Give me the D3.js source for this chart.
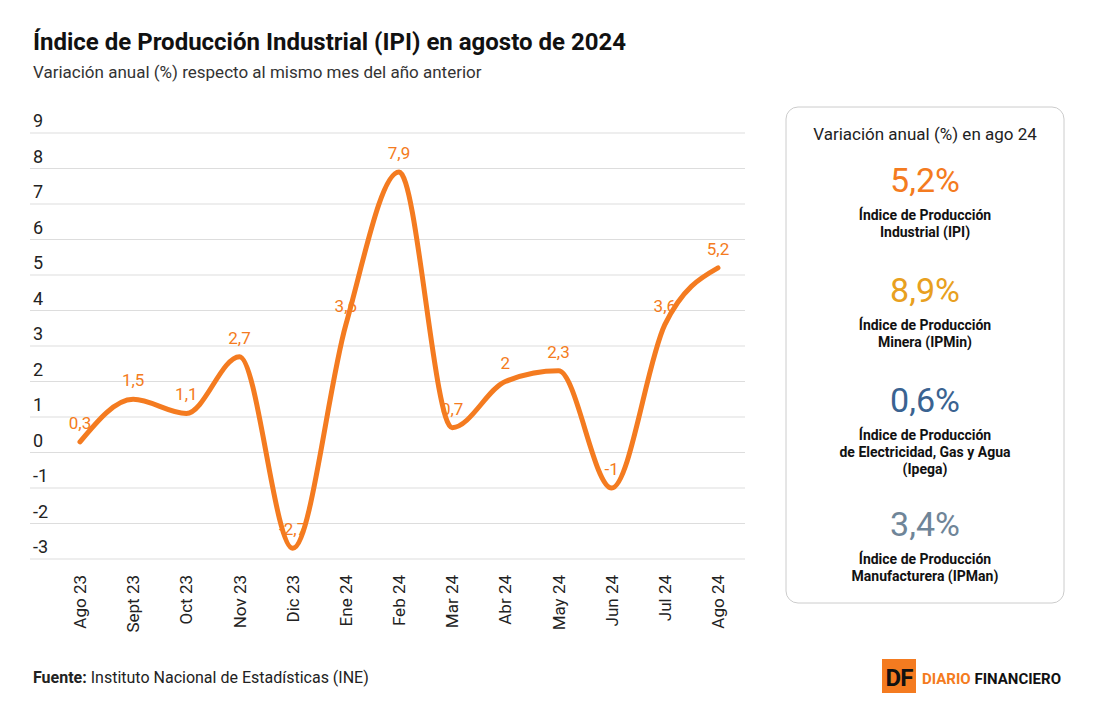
<!DOCTYPE html><html><head><meta charset="utf-8">
<script src="https://cdn.jsdelivr.net/npm/d3@7"></script>
<style>body{margin:0;background:#fff;font-family:Roboto,"Noto Sans",sans-serif}</style></head><body>
<svg id="c" width="1095" height="720"></svg>
<script>
const months=["Ago 23","Sept 23","Oct 23","Nov 23","Dic 23","Ene 24","Feb 24","Mar 24","Abr 24","May 24","Jun 24","Jul 24","Ago 24"];
const ipi=[0.3,1.5,1.1,2.7,-2.7,3.6,7.9,0.7,2,2.3,-1,3.6,5.2];
const yTicks=[-3,-2,-1,0,1,2,3,4,5,6,7,8,9];
const cardValues=["5,2%","8,9%","0,6%","3,4%"];
const cardLabels=[["Índice de Producción","Industrial (IPI)"],["Índice de Producción","Minera (IPMin)"],["Índice de Producción","de Electricidad, Gas y Agua","(Ipega)"],["Índice de Producción","Manufacturera (IPMan)"]];
const cardColors=["#f47b20","#e8a020","#3a6391","#6f8598"];
const svg=d3.select("#c");
const fmt=v=>String(v).replace(".",",");
svg.append("text").attr("x",33).attr("y",50).attr("font-size",24).attr("font-weight",700).attr("fill","#111").text("Índice de Producción Industrial (IPI) en agosto de 2024");
svg.append("text").attr("x",33).attr("y",78).attr("font-size",17).attr("fill","#333").text("Variación anual (%) respecto al mismo mes del año anterior");
const x=d3.scalePoint().domain(months).range([80,718]);
const y=d3.scaleLinear().domain([-3,9]).range([559,133]);
const g=svg.append("g");
g.selectAll("line.g").data(yTicks).join("line").attr("x1",30).attr("x2",745).attr("y1",d=>y(d)).attr("y2",d=>y(d)).attr("stroke","#ddd");
g.selectAll("text.yt").data(yTicks).join("text").attr("x",33).attr("y",d=>y(d)-6).attr("font-size",18).attr("fill","#222").text(d=>d);
g.selectAll("text.xt").data(months).join("text").attr("transform",d=>`translate(${x(d)+6},575) rotate(-90)`).attr("text-anchor","end").attr("font-size",17).attr("fill","#222").text(d=>d);
const line=d3.line().x((d,i)=>x(months[i])).y(d=>y(d)).curve(d3.curveMonotoneX);
g.append("path").attr("d",line(ipi)).attr("fill","none").attr("stroke","#f47b20").attr("stroke-width",5).attr("stroke-linecap","round");
g.selectAll("text.v").data(ipi).join("text").attr("x",(d,i)=>x(months[i])).attr("y",d=>y(d)-13).attr("text-anchor","middle").attr("font-size",17).attr("fill","#f47b20").text(d=>fmt(d));
svg.append("rect").attr("x",786).attr("y",107).attr("width",278).attr("height",496).attr("rx",12).attr("fill","#fff").attr("stroke","#ccc");
svg.append("text").attr("x",925).attr("y",140).attr("text-anchor","middle").attr("font-size",17).attr("fill","#222").text("Variación anual (%) en ago 24");
const tops=[192,302,412,536];
cardValues.forEach((v,i)=>{
 svg.append("text").attr("x",925).attr("y",tops[i]).attr("text-anchor","middle").attr("font-size",34).attr("fill",cardColors[i]).text(v);
 cardLabels[i].forEach((l,j)=>svg.append("text").attr("x",925).attr("y",tops[i]+28+j*17).attr("text-anchor","middle").attr("font-size",14).attr("font-weight",700).attr("fill","#111").text(l));
});
const f=svg.append("text").attr("x",33).attr("y",683).attr("font-size",16).attr("fill","#222");
f.append("tspan").attr("font-weight",700).text("Fuente: ");f.append("tspan").text("Instituto Nacional de Estadísticas (INE)");
svg.append("rect").attr("x",882).attr("y",659).attr("width",34).attr("height",34).attr("fill","#f47b20");
svg.append("text").attr("x",899).attr("y",686).attr("text-anchor","middle").attr("font-size",24).attr("font-weight",700).attr("fill","#111").attr("letter-spacing",-1).text("DF");
const b=svg.append("text").attr("x",922).attr("y",684).attr("font-size",15).attr("font-weight",700);
b.append("tspan").attr("fill","#f47b20").text("DIARIO ");b.append("tspan").attr("fill","#111").text("FINANCIERO");
</script></body></html>
